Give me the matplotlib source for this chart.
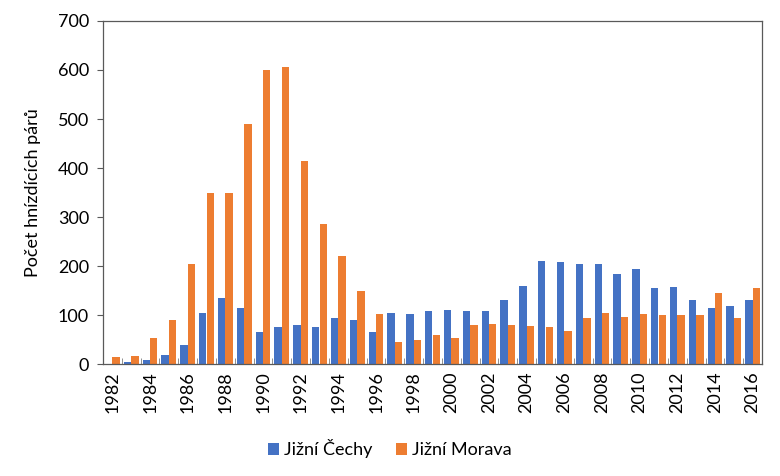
import matplotlib
matplotlib.use("Agg")
import matplotlib.pyplot as plt
import numpy as np

years = list(range(1982, 2017))
jizni_cechy = [0, 4, 9, 19, 39, 105, 135, 115, 65, 75, 80, 75, 95, 90, 65, 105, 103, 108,
               110, 108, 108, 131, 159, 210, 209, 204, 204, 184, 194, 156, 157, 130, 115, 118, 131]
jizni_morava = [14, 17, 54, 90, 204, 349, 349, 490, 600, 607, 414, 285, 220, 150, 102, 45, 50, 60,
                54, 80, 82, 80, 78, 75, 68, 95, 105, 97, 103, 100, 100, 100, 145, 95, 155]

plt.rcParams["font.family"] = ["Lato", "DejaVu Sans"]

fig = plt.figure(figsize=(7.8, 4.76), dpi=100)
ax = fig.add_axes([0.132, 0.235, 0.845, 0.721])

x = np.arange(len(years))
w = 0.39
ax.bar(x - 0.2, jizni_cechy, width=w, color="#4472C4", label="Jižní Čechy")
ax.bar(x + 0.2, jizni_morava, width=w, color="#ED7D31", label="Jižní Morava")

ax.set_xlim(-0.5, len(years) - 0.5)
ax.set_ylim(0, 700)
ax.set_yticks(range(0, 701, 100))
ax.set_xticks(x[::2])
ax.set_xticklabels([str(y) for y in years[::2]], rotation=90)
ax.set_xticks(np.arange(len(years) + 1) - 0.5, minor=True)
ax.tick_params(axis="x", which="major", length=0, labelsize=13, pad=5)
ax.tick_params(axis="x", which="minor", direction="in", length=4, color="#7f7f7f")
ax.tick_params(axis="y", length=4, color="#595959", labelsize=13, pad=6)
ax.set_ylabel("Počet hnízdících párů", fontsize=13, labelpad=12)
for s in ax.spines.values():
    s.set_color("#595959")
    s.set_linewidth(0.9)

fig.legend(loc="center", bbox_to_anchor=(0.5, 0.057), ncol=2, frameon=False,
           fontsize=13, handlelength=0.6, handleheight=0.6, handletextpad=0.3,
           columnspacing=1.3)

fig.savefig("out.png", dpi=100)
